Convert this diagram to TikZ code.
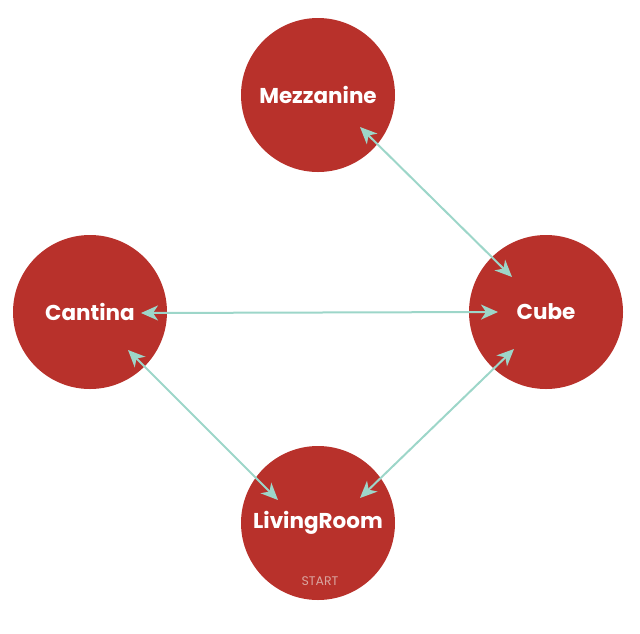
\documentclass[tikz,border=0pt]{standalone}
\usepackage{fontspec}
\setmainfont{Poppins}
\usetikzlibrary{arrows.meta,calc}
\definecolor{roomred}{HTML}{B8312B}
\definecolor{linkteal}{HTML}{9DD6C9}
\definecolor{starttxt}{HTML}{D9A5A0}
\tikzset{
  room/.style={circle,fill=roomred,minimum size=154pt,inner sep=0pt,text=white,font=\fontsize{21.5}{24}\selectfont\bfseries},
  link/.style={draw=linkteal,line width=2pt,{Stealth[length=17pt,width=15pt,inset=5pt]}-{Stealth[length=17pt,width=15pt,inset=5pt]}},
  starttag/.style={text=starttxt,font=\fontsize{12.5}{14}\selectfont,inner sep=0pt}
}
\begin{document}
\begin{tikzpicture}[x=1pt,y=-1pt]
\useasboundingbox (0,0) rectangle (640,633);
\node[room] (M) at (318,95) {Mezzanine};
\node[room] (C) at (90,312) {Cantina};
\node[room] (K) at (546,312) {Cube};
\node[room] (L) at (318,523) {LivingRoom};
\node[starttag] (S) at (320,581) {START};
\coordinate (mk1) at ($(M)+(42,32)$);
\coordinate (mk2) at ($(K)+(-34,-35)$);
\coordinate (ck1) at ($(C)+(51,1)$);
\coordinate (ck2) at ($(K)+(-48,0)$);
\coordinate (cl1) at ($(C)+(38,38)$);
\coordinate (cl2) at ($(L)+(-40,-23)$);
\coordinate (lk1) at ($(L)+(42,-25)$);
\coordinate (lk2) at ($(K)+(-32,37)$);
\draw[link] (mk1) -- (mk2);
\draw[link] (ck1) -- (ck2);
\draw[link] (cl1) -- (cl2);
\draw[link] (lk1) -- (lk2);
\end{tikzpicture}
\end{document}
